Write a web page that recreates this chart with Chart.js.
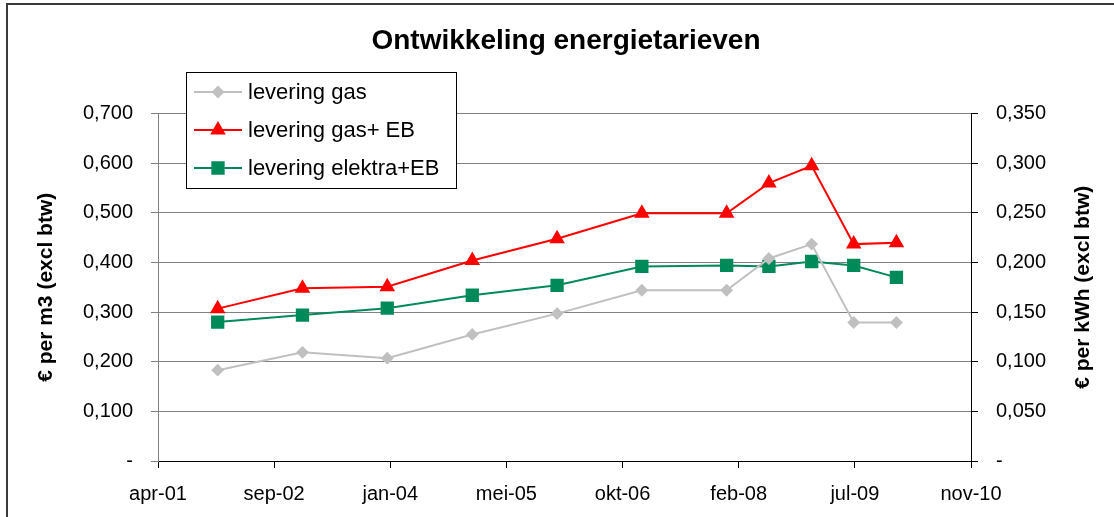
<!DOCTYPE html>
<html>
<head>
<meta charset="utf-8">
<script src="https://cdn.jsdelivr.net/npm/chart.js@4/dist/chart.umd.min.js"></script>
<style>
  body { margin: 0; background: #fff; }
  #wrap { position: relative; width: 1114px; height: 517px; }
  #frame { position: absolute; left: 6px; top: 3px; right: -4px; bottom: -4px;
           border: 2px solid #3a3a3a; }
  canvas { position: absolute; left: 0; top: 0; }
</style>
</head>
<body>
<div id="wrap">
  <div id="frame"></div>
  <canvas id="chart" width="1114" height="517"></canvas>
</div>
<script>
// ================== DATA ==================
const dates = ["2002-01-01", "2003-01-01", "2004-01-01", "2005-01-01", "2006-01-01", "2007-01-01",
               "2008-01-01", "2008-07-01", "2009-01-01", "2009-07-01", "2010-01-01"];
const gas        = [0.183, 0.219, 0.207, 0.255, 0.297, 0.344, 0.344, 0.408, 0.437, 0.279, 0.279];
const gasEB      = [0.307, 0.348, 0.351, 0.404, 0.448, 0.499, 0.499, 0.560, 0.595, 0.437, 0.440];
const elektraEB  = [0.140, 0.147, 0.154, 0.167, 0.177, 0.196, 0.197, 0.196, 0.201, 0.197, 0.185];
const seriesNames = ["levering gas", "levering gas+ EB", "levering elektra+EB"];
const xStart = "2001-04-19";   // first x tick (apr-01)
const xStepDays = 500;         // tick interval
const xTickCount = 8;          // apr-01 ... nov-10
const monthNames = ["jan", "feb", "mrt", "apr", "mei", "jun", "jul", "aug", "sep", "okt", "nov", "dec"];
const rightTitle = "€ per kWh (excl btw)";

const DAY = 86400000;
const toDay = s => Math.round(Date.parse(s + "T00:00:00Z") / DAY);
const xMin = toDay(xStart);
const xMax = xMin + xStepDays * (xTickCount - 1);

function fmtDate(day) {
  const d = new Date(day * DAY);
  return monthNames[d.getUTCMonth()] + "-" + String(d.getUTCFullYear()).slice(2);
}
function fmtNum(v) {
  if (Math.abs(v) < 1e-9) return "-";
  return v.toFixed(3).replace(".", ",");
}
const pts = vals => vals.map((v, i) => ({ x: toDay(dates[i]), y: v }));

const FONT = "'Liberation Sans', Arial, sans-serif";

// ================== LEGENDA + RECHTER ASTITEL ==================
const boxLegend = {
  id: "boxLegend",
  afterDraw(chart) {
    const ctx = chart.ctx;
    const x = 186, y = 72, w = 270, h = 116;
    ctx.save();
    ctx.fillStyle = "#fff";
    ctx.fillRect(x, y, w, h);
    ctx.strokeStyle = "#000";
    ctx.lineWidth = 1;
    ctx.strokeRect(x + 0.5, y + 0.5, w, h);
    chart.data.datasets.forEach((ds, i) => {
      const cy = y + 20 + i * 38;
      ctx.strokeStyle = ds.borderColor;
      ctx.lineWidth = 2;
      ctx.beginPath();
      ctx.moveTo(x + 8, cy);
      ctx.lineTo(x + 56, cy);
      ctx.stroke();
      Chart.helpers.drawPoint(ctx, {
        pointStyle: ds.pointStyle, radius: ds.pointRadius, borderWidth: 1
      }, x + 32, cy);
      ctx.fillStyle = ds.pointBackgroundColor;
      ctx.fill();
      ctx.fillStyle = "#000";
      ctx.font = "22px " + FONT;
      ctx.textBaseline = "middle";
      ctx.fillText(ds.label, x + 62, cy + 1);
    });

    // rechter astitel, zelfde leesrichting als links (van onder naar boven)
    const a = chart.chartArea;
    ctx.translate(1083, (a.top + a.bottom) / 2);
    ctx.rotate(-Math.PI / 2);
    ctx.font = "bold 21px " + FONT;
    ctx.textAlign = "center";
    ctx.textBaseline = "middle";
    ctx.fillStyle = "#000";
    ctx.fillText(rightTitle, 0, 0);
    ctx.restore();
  }
};

const tickFont = { family: FONT, size: 20 };
const titleFont = { family: FONT, size: 21, weight: "bold" };

new Chart(document.getElementById("chart"), {
  type: "line",
  data: {
    datasets: [
      { label: seriesNames[0], data: pts(gas), yAxisID: "y",
        borderColor: "#c0c0c0", backgroundColor: "#c0c0c0", pointBackgroundColor: "#c0c0c0",
        pointBorderColor: "#c0c0c0", pointStyle: "rectRot", pointRadius: 5, borderWidth: 2 },
      { label: seriesNames[1], data: pts(gasEB), yAxisID: "y",
        borderColor: "#ff0000", backgroundColor: "#ff0000", pointBackgroundColor: "#ff0000",
        pointBorderColor: "#ff0000", pointStyle: "triangle", pointRadius: 7, borderWidth: 2 },
      { label: seriesNames[2], data: pts(elektraEB), yAxisID: "y1",
        borderColor: "#008a5a", backgroundColor: "#008a5a", pointBackgroundColor: "#008a5a",
        pointBorderColor: "#008a5a", pointStyle: "rect", pointRadius: 8, borderWidth: 2 }
    ]
  },
  options: {
    responsive: false,
    animation: false,
    layout: { padding: { left: 18, right: 0, top: 0, bottom: 0 } },
    plugins: {
      legend: { display: false },
      tooltip: { enabled: false },
      title: {
        display: true,
        text: "Ontwikkeling energietarieven",
        color: "#000",
        font: { family: FONT, size: 28, weight: "bold" },
        padding: { top: 24, bottom: 56 }
      }
    },
    scales: {
      x: {
        type: "linear",
        min: xMin, max: xMax,
        afterFit: s => { s.height = 56; },
        ticks: { stepSize: xStepDays, callback: v => fmtDate(v), color: "#000",
                 font: tickFont, padding: 14, maxRotation: 0, autoSkip: false },
        grid: { drawOnChartArea: false, drawTicks: true, tickLength: 7, color: "#000" },
        border: { display: true, color: "#000", width: 1 }
      },
      y: {
        position: "left",
        min: 0, max: 0.7,
        afterFit: s => { s.width = 140; },
        ticks: { stepSize: 0.1, callback: v => fmtNum(v), color: "#000", font: tickFont, padding: 18 },
        grid: { color: "#808080", tickLength: 7 },
        border: { display: true, color: "#808080", width: 1 },
        title: { display: true, text: "€ per m3 (excl btw)", color: "#000", font: titleFont,
                 padding: { top: 16, bottom: 0 } }
      },
      y1: {
        position: "right",
        min: 0, max: 0.35,
        afterFit: s => { s.width = 143; },
        ticks: { stepSize: 0.05, callback: v => fmtNum(v), color: "#000", font: tickFont, padding: 18 },
        grid: { drawOnChartArea: false, color: "#000", tickLength: 7 },
        border: { display: true, color: "#000", width: 1 }
      }
    }
  },
  plugins: [boxLegend]
});
</script>
</body>
</html>
